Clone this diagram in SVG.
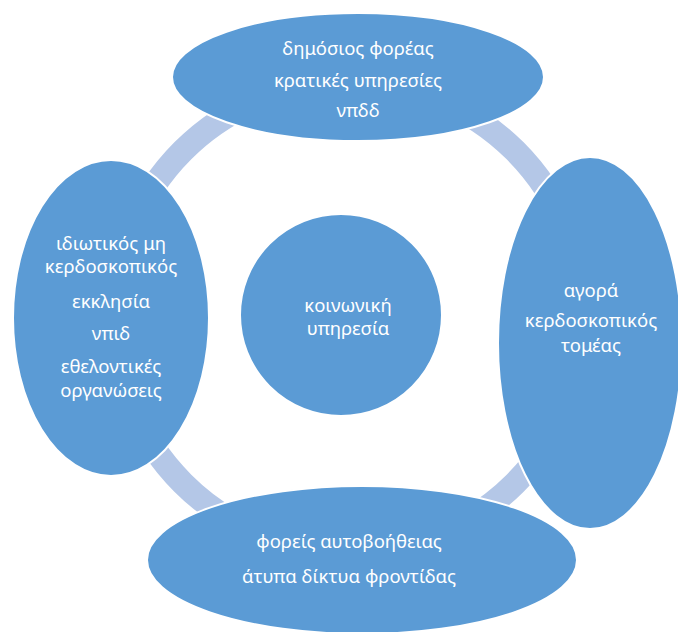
<svg xmlns="http://www.w3.org/2000/svg" width="678" height="632" viewBox="0 0 678 632">
<style>
.node{fill:#5b9bd5;stroke:#ffffff;stroke-width:2}
.ring{fill:none;stroke:#b4c7e7;stroke-width:24}
text{font-family:"Noto Sans","Open Sans","Liberation Sans",sans-serif;font-size:18.5px;fill:#ffffff;text-anchor:middle}
</style>
<rect width="678" height="632" fill="#ffffff"/>
<g id="connectors">
<circle class="ring" cx="349" cy="317" r="235"/>
</g>
<g id="top">
<ellipse class="node" cx="358" cy="77" rx="186" ry="64"/>
<text x="358" y="55">δημόσιος φορέας</text>
<text x="358" y="87">κρατικές υπηρεσίες</text>
<text x="358" y="117">νπδδ</text>
</g>
<g id="right">
<ellipse class="node" cx="590" cy="343" rx="92" ry="186"/>
<text x="591" y="297">αγορά</text>
<text x="591" y="327">κερδοσκοπικός</text>
<text x="591" y="352">τομέας</text>
</g>
<g id="bottom">
<ellipse class="node" cx="362" cy="560" rx="215" ry="74"/>
<text x="349" y="548">φορείς αυτοβοήθειας</text>
<text x="349" y="583">άτυπα δίκτυα φροντίδας</text>
</g>
<g id="left">
<ellipse class="node" cx="111" cy="318" rx="98" ry="158"/>
<text x="111" y="250">ιδιωτικός μη</text>
<text x="111" y="273">κερδοσκοπικός</text>
<text x="111" y="308">εκκλησία</text>
<text x="111" y="340">νπιδ</text>
<text x="111" y="373">εθελοντικές</text>
<text x="111" y="397">οργανώσεις</text>
</g>
<g id="center">
<ellipse class="node" cx="341" cy="315" rx="101" ry="101"/>
<text x="348" y="312">κοινωνική</text>
<text x="348" y="335">υπηρεσία</text>
</g>
</svg>
